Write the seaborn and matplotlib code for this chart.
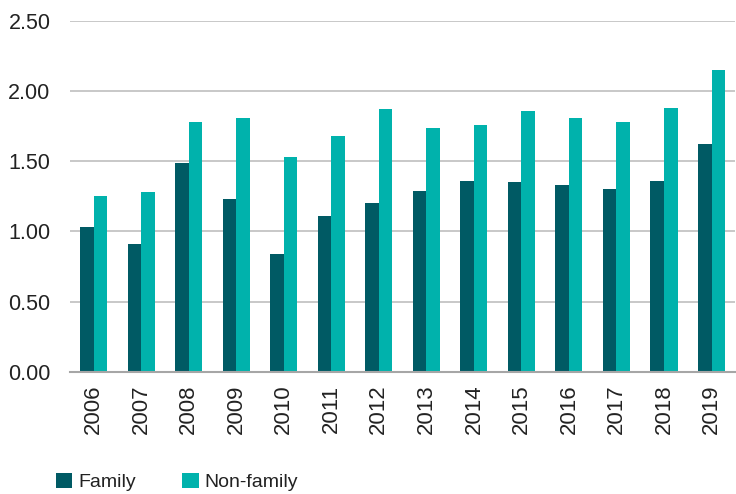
import numpy as np
import pandas as pd
import matplotlib
matplotlib.use("Agg")
import matplotlib.pyplot as plt
import seaborn as sns

# Valores
anos = ["2006", "2007", "2008", "2009", "2010", "2011", "2012",
        "2013", "2014", "2015", "2016", "2017", "2018", "2019"]
familia = [1.03, 0.91, 1.49, 1.23, 0.84, 1.11, 1.20,
           1.29, 1.36, 1.35, 1.33, 1.30, 1.36, 1.62]
nao_familia = [1.25, 1.28, 1.78, 1.81, 1.53, 1.68, 1.87,
               1.74, 1.76, 1.86, 1.81, 1.78, 1.88, 2.15]
series = ["Family", "Non-family"]
cores = ["#005a64", "#00b2ac"]

df = pd.DataFrame({
    "ano": anos * 2,
    "valor": familia + nao_familia,
    "grupo": [series[0]] * len(anos) + [series[1]] * len(anos),
})

sns.set_style("white")
plt.rcParams["font.family"] = ["Liberation Sans", "DejaVu Sans"]

fig = plt.figure(figsize=(7.36, 4.94), dpi=100)
ax = fig.add_axes([0.095, 0.247, 0.904, 0.711])

sns.barplot(data=df, x="ano", y="valor", hue="grupo", palette=cores,
            width=0.57, gap=0, saturation=1, linewidth=0, ax=ax, legend=True)

ax.set_ylim(0, 2.5)
ax.set_xlim(-0.5, len(anos) - 0.5)
ax.set_yticks(np.arange(0, 2.51, 0.5))
ax.set_yticklabels([f"{v:.2f}" for v in np.arange(0, 2.51, 0.5)])
ax.yaxis.grid(True, color="#c4c4c4", linewidth=1.3)
ax.set_axisbelow(True)
ax.set_xlabel("")
ax.set_ylabel("")

for lado in ["top", "right", "left"]:
    ax.spines[lado].set_visible(False)
ax.spines["bottom"].set_color("#a6a6a6")
ax.spines["bottom"].set_linewidth(1.5)

# marcas entre categorias
ax.set_xticks(np.arange(len(anos) + 1) - 0.5, minor=True)
ax.tick_params(axis="x", which="minor", length=6, width=1.5, color="#a6a6a6", direction="out")
ax.tick_params(axis="x", which="major", length=0, pad=9, labelsize=16, labelcolor="#222222")
ax.tick_params(axis="y", length=0, pad=14, labelsize=15.5, labelcolor="#222222")
plt.setp(ax.get_xticklabels(), rotation=90)

handles, labels = ax.get_legend_handles_labels()
ax.get_legend().remove()
fig.legend(handles, labels, loc="lower left", bbox_to_anchor=(0.052, -0.03),
           ncol=2, frameon=False, fontsize=14, handlelength=0.85, handleheight=0.85,
           handletextpad=0.3, columnspacing=2.4, labelcolor="#222222")

fig.savefig("out.png", dpi=100)
